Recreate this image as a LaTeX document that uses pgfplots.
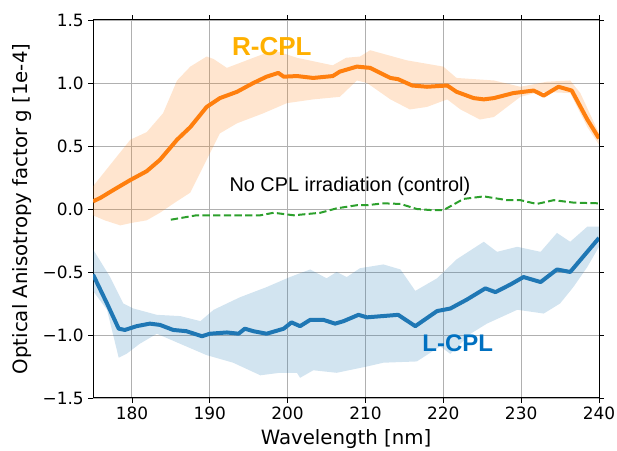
\documentclass[border=0pt]{standalone}
\usepackage{fontspec}
\setmainfont{DejaVu Sans}
\newfontfamily\arial{Liberation Sans}
\usepackage{pgfplots}
\pgfplotsset{compat=1.18}
\usepgfplotslibrary{fillbetween}
\definecolor{tabblue}{HTML}{1F77B4}
\definecolor{taborange}{HTML}{FF7F0E}
\definecolor{tabgreen}{HTML}{2CA02C}
\definecolor{rlabel}{HTML}{FFB000}
\definecolor{llabel}{HTML}{0070C0}
\definecolor{gridgray}{HTML}{B0B0B0}

\begin{document}
\begin{tikzpicture}
\begin{axis}[
    scale only axis,
    width=379.5pt, height=283.5pt,
    xmin=175, xmax=240,
    ymin=-1.5, ymax=1.5,
    xtick={180,190,...,240},
    ytick={-1.5,-1,-0.5,0,0.5,1,1.5},
    yticklabels={−1.5,−1.0,−0.5,0.0,0.5,1.0,1.5},
    /pgf/number format/assume math mode=true,
    tick align=outside,
    major tick length=3.4pt,
    tick style={black, line width=0.6pt},
    axis line style={black, line width=0.75pt},
    grid=major,
    major grid style={gridgray, line width=0.7pt},
    tick label style={font=\fontsize{12.7}{15}\selectfont},
    label style={font=\fontsize{14.8}{17}\selectfont},
    xlabel={Wavelength [nm]},
    ylabel={Optical Anisotropy factor g [1e-4]},
    xlabel style={at={(rel axis cs:0.5,-0.1085)}, anchor=center},
    ylabel style={at={(rel axis cs:-0.1404,0.5)}, anchor=center},
    clip=true,
]
% R-CPL band
\addplot[name path=RU, draw=none, forget plot] coordinates {
(175.0,0.18) (179.8,0.55) (181.9,0.61) (184.0,0.76) (185.8,1.02) (187.5,1.13)
(189.6,1.21) (190.5,1.19) (192.2,1.12) (195.6,1.20) (198.2,1.26) (201.2,1.20)
(205.8,1.14) (207.5,1.20) (209.3,1.21) (210.6,1.26) (215.3,1.18) (220.0,1.13)
(221.7,1.04) (226.5,1.02) (229.9,0.97) (233.3,1.01) (236.3,1.02) (237.6,0.92)
(240.0,0.60)
};
\addplot[name path=RL, draw=none, forget plot] coordinates {
(175.0,-0.05) (176.5,-0.09) (178.5,-0.13) (180.0,-0.11) (181.9,-0.09) (183.6,-0.03)
(185.5,0.05) (187.5,0.13) (189.6,0.39) (191.3,0.60) (193.5,0.68) (196.9,0.76)
(199.9,0.84) (203.3,0.87) (206.7,0.89) (208.9,1.02) (210.2,1.00) (213.2,0.87)
(215.7,0.79) (217.9,0.81) (220.5,0.87) (222.2,0.79) (224.7,0.71) (226.5,0.73)
(229.9,0.89) (232.4,0.93) (236.3,0.92) (238.5,0.65) (240.0,0.51)
};
\addplot[taborange, fill opacity=0.2, draw=none] fill between[of=RU and RL];
% L-CPL band
\addplot[name path=LU, draw=none, forget plot] coordinates {
(175.0,-0.32) (177.2,-0.54) (178.9,-0.75) (180.2,-0.79) (183.2,-0.84) (186.2,-0.85)
(188.8,-0.89) (190.5,-0.80) (193.9,-0.70) (197.3,-0.62) (200.3,-0.54) (202.9,-0.48)
(205.0,-0.55) (206.3,-0.50) (207.6,-0.54) (209.3,-0.47) (212.3,-0.44) (214.5,-0.48)
(216.4,-0.65) (219.2,-0.55) (221.7,-0.40) (225.2,-0.26) (226.9,-0.34) (229.5,-0.30)
(232.5,-0.34) (234.6,-0.19) (236.3,-0.26) (238.5,-0.14) (240.0,-0.14)
};
\addplot[name path=LL, draw=none, forget plot] coordinates {
(175.0,-0.65) (176.8,-0.80) (178.3,-1.18) (179.3,-1.15) (181.0,-1.07) (183.2,-0.99)
(186.2,-1.07) (189.6,-1.16) (193.0,-1.22) (196.5,-1.32) (199.0,-1.30) (201.2,-1.30)
(201.6,-1.34) (203.3,-1.28) (206.3,-1.30) (210.2,-1.25) (212.3,-1.22) (216.6,-1.21)
(219.6,-1.09) (220.9,-1.15) (223.5,-0.99) (225.6,-0.91) (229.5,-0.80) (232.9,-0.83)
(235.0,-0.75) (236.7,-0.62) (238.5,-0.46) (240.0,-0.30)
};
\addplot[tabblue, fill opacity=0.2, draw=none] fill between[of=LU and LL];
% control
\addplot[tabgreen, line width=1.5pt, dash pattern=on 5.5pt off 2.5pt] coordinates {
(185.0,-0.085) (188.3,-0.05) (193.0,-0.05) (196.5,-0.05) (198.2,-0.03) (200.8,-0.05)
(204.2,-0.03) (206.3,0.005) (208.9,0.03) (210.2,0.03) (212.3,0.045) (214.5,0.04)
(216.6,0.00) (218.7,-0.01) (220.0,-0.01) (222.6,0.08) (225.2,0.10) (228.2,0.07)
(229.9,0.07) (232.0,0.04) (234.2,0.07) (236.8,0.05) (240.0,0.045)
};
% R-CPL
\addplot[taborange, line width=3pt, line join=round] coordinates {
(175.0,0.06) (176.0,0.09) (177.6,0.15) (179.8,0.23) (181.9,0.30) (183.6,0.39)
(185.8,0.55) (187.5,0.65) (189.6,0.81) (191.3,0.88) (193.5,0.93) (195.6,1.00)
(197.3,1.05) (198.8,1.08) (199.5,1.05) (201.2,1.055) (203.3,1.04) (205.8,1.055)
(206.7,1.09) (208.9,1.13) (210.6,1.12) (213.2,1.04) (214.2,1.03) (216.0,0.98)
(217.9,0.97) (220.5,0.98) (221.7,0.93) (223.9,0.88) (225.2,0.87) (226.5,0.88)
(229.0,0.92) (231.6,0.94) (232.9,0.90) (234.8,0.97) (236.5,0.94) (238.5,0.71)
(240.0,0.56)
};
% L-CPL
\addplot[tabblue, line width=3pt, line join=round] coordinates {
(175.0,-0.52) (176.8,-0.75) (178.3,-0.95) (179.1,-0.96) (180.6,-0.93) (182.3,-0.91)
(183.6,-0.92) (185.3,-0.96) (187.0,-0.97) (189.0,-1.01) (190.0,-0.99) (192.2,-0.98)
(193.7,-0.99) (194.5,-0.95) (195.6,-0.97) (197.3,-0.99) (199.5,-0.95) (200.5,-0.90)
(201.6,-0.93) (202.9,-0.88) (204.6,-0.88) (206.1,-0.91) (207.2,-0.89) (209.1,-0.84)
(210.2,-0.86) (214.2,-0.84) (216.4,-0.93) (219.2,-0.81) (220.9,-0.79) (223.0,-0.72)
(225.4,-0.63) (226.7,-0.66) (228.6,-0.60) (230.3,-0.54) (232.5,-0.58) (234.6,-0.48)
(236.3,-0.50) (240.0,-0.23)
};
\node[text=rlabel, font=\arial\bfseries\fontsize{19.5}{22}\selectfont] at (axis cs:197.97,1.288) {R-CPL};
\node[text=llabel, font=\arial\bfseries\fontsize{18}{20}\selectfont] at (axis cs:221.85,-1.066) {L-CPL};
\node[text=black, font=\arial\fontsize{14.9}{17}\selectfont] at (axis cs:208.0,0.18) {No CPL irradiation (control)};
\coordinate (bl) at (rel axis cs:-0.1838,-0.1376);
\coordinate (tr) at (rel axis cs:1.0356,1.0529);
\end{axis}
\pgfresetboundingbox
\useasboundingbox (bl) rectangle (tr);
\end{tikzpicture}
\end{document}
